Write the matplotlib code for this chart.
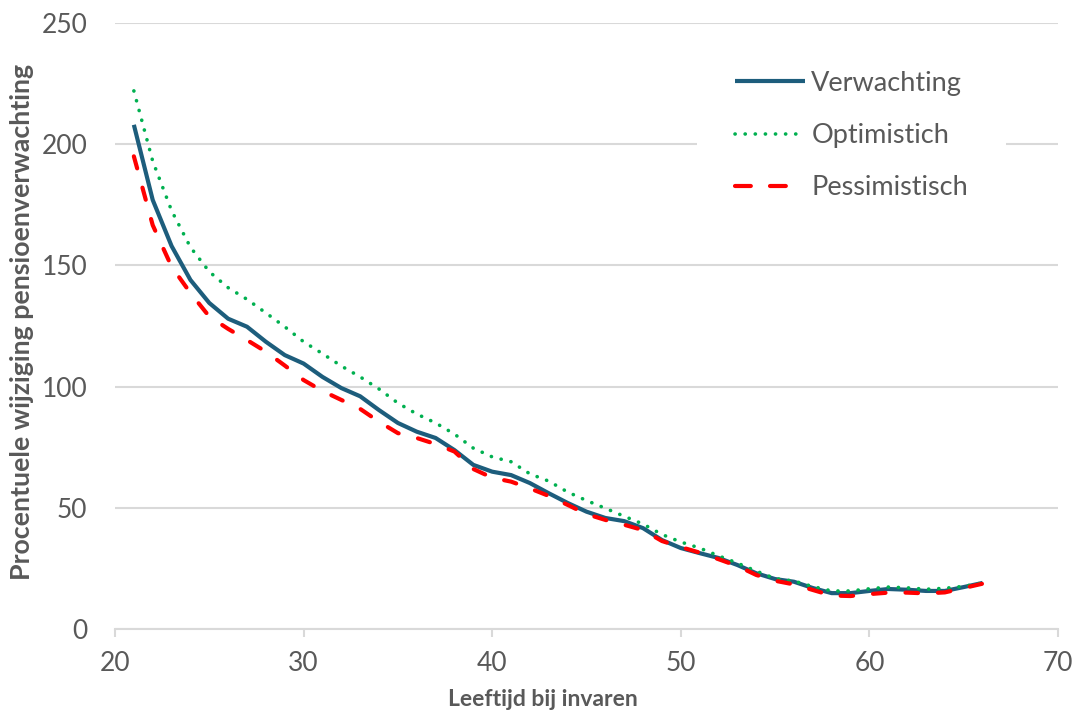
import matplotlib
matplotlib.use("Agg")
import matplotlib.pyplot as plt
from matplotlib.lines import Line2D

ages = list(range(21, 67))
verwachting = [208, 177, 158, 144, 134.5, 128, 124.7, 118.5, 113, 109.5,
               104, 99.4, 96, 90.3, 85, 81.4, 78.8, 73.8, 67.7, 64.9,
               63.5, 60.2, 56, 52, 48.4, 45.8, 44.5, 41.6, 36.7, 33.4,
               31.3, 29.3, 26.4, 23, 20.6, 19.5, 16.9, 14.8, 14.8, 15.7,
               16.5, 16.2, 15.7, 15.7, 17.3, 19]
optimistisch = [222, 193, 172.6, 157.5, 147.4, 140.8, 136, 130.4, 124.7, 118.5,
                113.6, 108.5, 104, 99, 93.2, 88.7, 85, 80.4, 74.6, 71,
                69, 64, 61, 56.5, 53, 49.8, 46.5, 43.3, 39, 35.9,
                33.4, 30.2, 27.2, 23.9, 20.8, 19.8, 17.5, 15.7, 15.7, 16.6,
                17.3, 17, 16.4, 16.8, 17.6, 19]
pessimistisch = [195, 166.6, 149.5, 138.6, 128.9, 123.8, 119.2, 114.4, 108.7, 102.7,
                 98.2, 94.5, 90.8, 85.5, 80.8, 78.8, 76.3, 73.2, 66, 62.4,
                 60.8, 58, 54.9, 51.2, 47.4, 45, 43, 40.8, 36.3, 33.8,
                 31.5, 28.8, 26, 22.3, 19.9, 18.4, 16.1, 13.8, 13.6, 14.4,
                 15, 15, 14.7, 15.1, 16.9, 18.7]
series_labels = ["Verwachting", "Optimistich", "Pessimistisch"]
xticks = [20, 30, 40, 50, 60, 70]
yticks = [0, 50, 100, 150, 200, 250]
xlabel = "Leeftijd bij invaren"
ylabel = "Procentuele wijziging pensioenverwachting"

plt.rcParams['font.family'] = ['Lato', 'DejaVu Sans']
TXT = "#595959"
GRID = "#d9d9d9"
BLUE, GREEN, RED = "#1d5d7c", "#00b050", "#ff0000"

fig = plt.figure(figsize=(10.78, 7.16), dpi=100)
ax = fig.add_axes([115/1078, 1 - 629/716, 943/1078, 606/716])

l1, = ax.plot(ages, verwachting, color=BLUE, lw=3.0, solid_capstyle='butt',
              label=series_labels[0], zorder=3)
l2, = ax.plot(ages, optimistisch, color=GREEN, lw=2.6, linestyle=(0, (0.05, 2.75)),
              dash_capstyle='round', label=series_labels[1], zorder=4)
ax.plot(ages, pessimistisch, color=RED, lw=3.0, linestyle=(0, (3.0, 4.8)),
        dash_capstyle='round', label=series_labels[2], zorder=5)
l3 = Line2D([], [], color=RED, lw=3.0, linestyle=(0, (3.8, 4.6, 3.8, 30)),
            dash_capstyle='round')

ax.set_xlim(20, 70)
ax.set_ylim(0, 250)
ax.set_xticks(xticks)
ax.set_yticks(yticks)
ax.grid(axis='y', color=GRID, lw=1.5, zorder=0)
ax.set_axisbelow(True)
for s in ['top', 'right', 'left']:
    ax.spines[s].set_visible(False)
ax.spines['bottom'].set_color(GRID)
ax.spines['bottom'].set_linewidth(1.5)
ax.tick_params(axis='x', colors=GRID, length=6, width=1.5, direction='out',
               labelcolor=TXT, labelsize=19, pad=10)
ax.tick_params(axis='y', length=0, labelcolor=TXT, labelsize=19, pad=20)

ax.set_xlabel(xlabel, fontsize=16.5, fontweight='bold', color=TXT)
ax.set_ylabel(ylabel, fontsize=19.3, fontweight='bold', color=TXT)
ax.xaxis.set_label_coords((543 - 115) / 943, (629 - 700) / 606)
ax.yaxis.set_label_coords((22 - 115) / 943, (629 - 322) / 606)
ax.xaxis.label.set_va('center')
ax.yaxis.label.set_va('center')

leg = ax.legend([l1, l2, l3], series_labels,
                loc='upper left', bbox_to_anchor=((697 - 115) / 943, (629 - 33) / 606),
                frameon=True, fontsize=19.5, handlelength=2.6, handletextpad=0.22,
                labelspacing=1.0, borderpad=1.4, borderaxespad=0)
leg.get_frame().set_facecolor('white')
leg.get_frame().set_edgecolor('none')
leg.get_frame().set_alpha(1)
for t in leg.get_texts():
    t.set_color(TXT)

fig.savefig("out.png", dpi=100)
